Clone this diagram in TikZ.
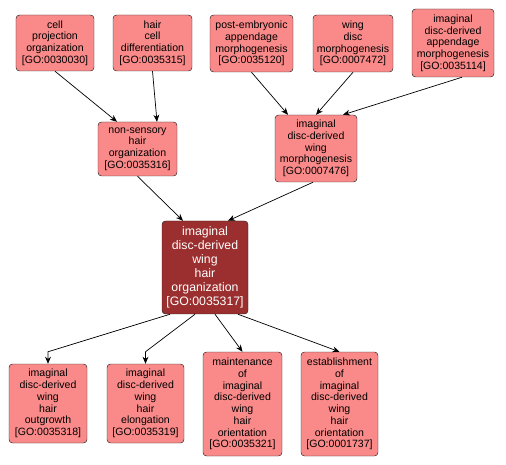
\documentclass[tikz,border=0pt]{standalone}
\usepackage{fontspec}
\setmainfont{Liberation Sans}
\usepackage{tikz}
\usetikzlibrary{arrows.meta,calc,positioning}
\definecolor{termPink}{RGB}{250,137,137}
\definecolor{termRed}{RGB}{155,46,46}
\newcommand{\goid}[1]{{[GO:#1]}}

\begin{document}
\begin{tikzpicture}[
  box/.style={draw=black!85, rounded corners=3pt, align=center, inner sep=0pt,
    fill=termPink, font=\fontsize{9}{10}\selectfont},
  hub/.style={box, fill=termRed, text=white, font=\fontsize{10.5}{12}\selectfont},
  arr/.style={-{Stealth[length=6pt,width=5pt]}, semithick}
]
\useasboundingbox (0,0) rectangle (15.18,-13.95);

% top row
\node[box, minimum width=2.34cm, minimum height=1.68cm] (cellproj) at (1.65,-1.29) {cell\\projection\\organization\\\goid{0030030}};
\node[box, minimum width=2.37cm, minimum height=1.68cm] (haircell) at (4.575,-1.29) {hair\\cell\\differentiation\\\goid{0035315}};
\node[box, minimum width=2.49cm, minimum height=1.71cm] (postemb) at (7.545,-1.305) {post-embryonic\\appendage\\morphogenesis\\\goid{0035120}};
\node[box, minimum width=2.40cm, minimum height=1.71cm] (wingdisc) at (10.59,-1.305) {wing\\disc\\morphogenesis\\\goid{0007472}};
\node[box, minimum width=2.46cm, minimum height=2.04cm] (append) at (13.59,-1.29) {imaginal\\disc-derived\\appendage\\morphogenesis\\\goid{0035114}};

% middle
\node[box, minimum width=2.37cm, minimum height=1.62cm] (nonsens) at (4.125,-4.47) {non-sensory\\hair\\organization\\\goid{0035316}};
\node[box, minimum width=2.46cm, minimum height=2.01cm] (wingmorph) at (9.48,-4.455) {imaginal\\disc-derived\\wing\\morphogenesis\\\goid{0007476}};
\node[hub, minimum width=2.58cm, minimum height=2.79cm] (hair) at (6.15,-8.025) {imaginal\\disc-derived\\wing\\hair\\organization\\\goid{0035317}};

% bottom row
\node[box, minimum width=2.34cm, minimum height=2.37cm] (outgrowth) at (1.44,-12.105) {imaginal\\disc-derived\\wing\\hair\\outgrowth\\\goid{0035318}};
\node[box, minimum width=2.31cm, minimum height=2.37cm] (elong) at (4.365,-12.105) {imaginal\\disc-derived\\wing\\hair\\elongation\\\goid{0035319}};
\node[box, minimum width=2.37cm, minimum height=3.12cm] (maint) at (7.275,-12.12) {maintenance\\of\\imaginal\\disc-derived\\wing\\hair\\orientation\\\goid{0035321}};
\node[box, minimum width=2.31cm, minimum height=3.12cm] (establ) at (10.185,-12.12) {establishment\\of\\imaginal\\disc-derived\\wing\\hair\\orientation\\\goid{0001737}};

\draw[arr] (cellproj.south) -- ([xshift=-0.615cm]nonsens.north);
\draw[arr] (haircell.south) -- ([xshift=0.585cm]nonsens.north);
\draw[arr] (postemb.south) -- ([xshift=-0.84cm]wingmorph.north);
\draw[arr] (wingdisc.south) -- (wingmorph.north);
\draw[arr] ([xshift=0.27cm]append.south) -- ([xshift=0.81cm]wingmorph.north);

\draw[arr] (nonsens.south) -- ([xshift=-0.66cm]hair.north);
\draw[arr] ([xshift=-0.09cm]wingmorph.south) -- ([xshift=0.69cm]hair.north);

\draw[arr] ([xshift=-1.05cm]hair.south) -- ([yshift=0.36cm]outgrowth.north) -- (outgrowth.north);
\draw[arr] ([xshift=-0.3cm]hair.south) -- ([yshift=0.36cm]elong.north) -- (elong.north);
\draw[arr] ([xshift=0.3cm]hair.south) -- (maint.north);
\draw[arr] ([xshift=0.99cm]hair.south) -- (establ.north);
\end{tikzpicture}
\end{document}
